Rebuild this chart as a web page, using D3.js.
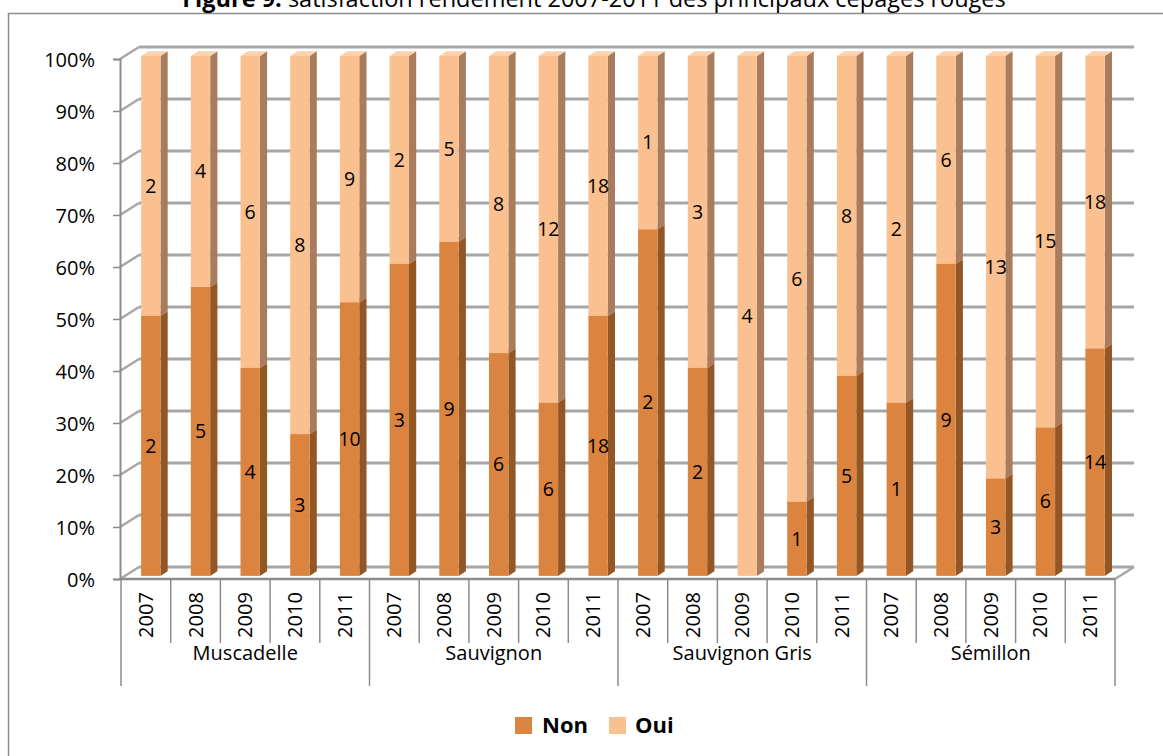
<!DOCTYPE html>
<html>
<head>
<meta charset="utf-8">
<script src="https://cdn.jsdelivr.net/npm/d3@7"></script>
<style>
  html, body { margin: 0; padding: 0; background: #fff; }
  svg { display: block; font-family: "Open Sans", "Noto Sans", sans-serif; }
</style>
</head>
<body>
<svg id="chart" width="1163" height="756"></svg>
<script>
// ---- data ----
const groups = ["Muscadelle", "Sauvignon", "Sauvignon Gris", "Sémillon"];
const years = ["2007", "2008", "2009", "2010", "2011"];
const seriesNames = ["Non", "Oui"];
const nonValues = [2, 5, 4, 3, 10,  3, 9, 6, 6, 18,  2, 2, 0, 1, 5,  1, 9, 3, 6, 14];
const ouiValues = [2, 4, 6, 8, 9,   2, 5, 8, 12, 18, 1, 3, 4, 6, 8,  2, 6, 13, 15, 18];
const titleBold = "Figure 9:";
const titleText = " satisfaction rendement 2007-2011 des principaux cépages rouges";

// ---- styles ----
const colors = {
  Non: { front: "#DB8440", side: "#935625", top: "#E59A60" },
  Oui: { front: "#FAC090", side: "#A87C5C", top: "#FCD2AE" }
};
const gridColor = "#A6A6A6";

const svg = d3.select("#chart");

// outer frame (top + left edges visible)
svg.append("line").attr("x1", 8).attr("x2", 1163).attr("y1", 13.5).attr("y2", 13.5)
  .attr("stroke", "#8C8C8C").attr("stroke-width", 1.5);
svg.append("line").attr("x1", 8.5).attr("x2", 8.5).attr("y1", 13).attr("y2", 756)
  .attr("stroke", "#8C8C8C").attr("stroke-width", 1.5);

// title (partially clipped at the top, as in the reference)
const title = svg.append("text").attr("x", 594).attr("y", 7)
  .attr("text-anchor", "middle").attr("font-size", 23.5).attr("fill", "#000");
title.append("tspan").attr("font-weight", "bold").text(titleBold);
title.append("tspan").text(titleText);

// ---- scales ----
const n = nonValues.length;
const x = d3.scaleBand().domain(d3.range(n)).range([121, 1115]).padding(0);
const y = d3.scaleLinear().domain([0, 1]).range([579, 59]);
const D = { x: 19, y: -12 };           // depth vector (front -> back wall)
const d0 = 0.26, d1 = 0.64;            // bar depth range
const bw = x.bandwidth();
const barW = bw * 0.39;

// ---- back wall gridlines + left wall ----
const ticks = y.ticks(10);
const g = svg.append("g");
g.selectAll("line.side").data(ticks).join("line")
  .attr("x1", 120).attr("y1", d => y(d))
  .attr("x2", 120 + D.x).attr("y2", d => y(d) + D.y)
  .attr("stroke", gridColor).attr("stroke-width", 2.5);
g.selectAll("line.grid").data(ticks).join("line")
  .attr("x1", 120 + D.x).attr("y1", d => y(d) + D.y)
  .attr("x2", 1115 + D.x).attr("y2", d => y(d) + D.y)
  .attr("stroke", gridColor).attr("stroke-width", 3);
g.append("line").attr("x1", 1115).attr("y1", y(0)).attr("x2", 1115 + D.x).attr("y2", y(0) + D.y)
  .attr("stroke", gridColor).attr("stroke-width", 2.5);

// ---- bars ----
const rows = d3.range(n).map(i => {
  const tot = nonValues[i] + ouiValues[i];
  return {
    i,
    segs: [
      { key: "Non", v: nonValues[i], a: 0, b: nonValues[i] / tot },
      { key: "Oui", v: ouiValues[i], a: nonValues[i] / tot, b: 1 }
    ]
  };
});

const bars = svg.append("g");
rows.forEach(r => {
  const xl = x(r.i) + bw / 2 - barW / 2 + d0 * D.x;
  const xr = xl + barW;
  const dx = (d1 - d0) * D.x, dy = (d1 - d0) * D.y;
  r.segs.forEach(s => {
    if (s.b - s.a <= 0) return;
    const yb = y(s.a) + d0 * D.y;
    const yt = y(s.b) + d0 * D.y;
    const c = colors[s.key];
    bars.append("path")
      .attr("d", `M${xr},${yb}L${xr + dx},${yb + dy}L${xr + dx},${yt + dy}L${xr},${yt}Z`)
      .attr("fill", c.side);
    bars.append("path")
      .attr("d", `M${xl},${yt}L${xr},${yt}L${xr + dx},${yt + dy}L${xl + dx},${yt + dy}Z`)
      .attr("fill", c.top);
    bars.append("rect").attr("x", xl).attr("y", yt).attr("width", barW).attr("height", yb - yt)
      .attr("fill", c.front);
  });
});

// value labels
const labels = svg.append("g").attr("font-size", 19.5).attr("fill", "#000").attr("text-anchor", "middle");
rows.forEach(r => {
  const cx = x(r.i) + bw / 2 + d0 * D.x;
  r.segs.forEach(s => {
    if (!s.v) return;
    const cy = y((s.a + s.b) / 2) + d0 * D.y;
    labels.append("text").attr("x", cx).attr("y", cy).attr("dy", "0.35em").text(s.v);
  });
});

// ---- y axis ----
const yAxis = svg.append("g").attr("transform", "translate(120,0)")
  .call(d3.axisLeft(y).ticks(10).tickFormat(d3.format(".0%")).tickSize(7).tickPadding(18));
yAxis.select(".domain").attr("stroke", "#8C8C8C").attr("stroke-width", 2);
yAxis.selectAll(".tick line").attr("stroke", "#8C8C8C").attr("stroke-width", 1.5);
yAxis.selectAll(".tick text").attr("font-size", 20).attr("fill", "#000")
  .attr("font-family", "'Open Sans', sans-serif").attr("dy", "0.35em");

// ---- category axis (two levels) ----
const cat = svg.append("g").attr("stroke", "#8C8C8C");
cat.append("line").attr("x1", 120).attr("x2", 1115).attr("y1", y(0)).attr("y2", y(0)).attr("stroke-width", 2.5);
d3.range(n + 1).forEach(k => {
  const xx = k < n ? x(k) : x(n - 1) + bw;
  const isGroup = k % years.length === 0;
  cat.append("line").attr("x1", xx).attr("x2", xx).attr("y1", y(0))
    .attr("y2", isGroup ? 686 : 643).attr("stroke-width", 1.5);
});
const yearLbl = svg.append("g").attr("font-size", 20).attr("fill", "#000");
d3.range(n).forEach(i => {
  const cx = x(i) + bw / 2;
  yearLbl.append("text").attr("transform", `translate(${cx},615) rotate(-90)`)
    .attr("text-anchor", "middle").attr("dy", "0.35em").text(years[i % years.length]);
});
const grpLbl = svg.append("g").attr("font-size", 20).attr("fill", "#000").attr("text-anchor", "middle");
groups.forEach((gname, gi) => {
  const a = x(gi * years.length), b = x(gi * years.length + years.length - 1) + bw;
  grpLbl.append("text").attr("x", (a + b) / 2).attr("y", 653).attr("dy", "0.35em").text(gname);
});

// ---- legend ----
const legend = svg.append("g");
const legendPos = [{ sx: 515, tx: 542 }, { sx: 609, tx: 635 }];
seriesNames.forEach((s, k) => {
  legend.append("rect").attr("x", legendPos[k].sx).attr("y", 717).attr("width", 17).attr("height", 17)
    .attr("fill", colors[s].front);
  legend.append("text").attr("x", legendPos[k].tx).attr("y", 733).attr("font-size", 22)
    .attr("font-weight", "bold").attr("fill", "#000").text(s);
});
</script>
</body>
</html>
